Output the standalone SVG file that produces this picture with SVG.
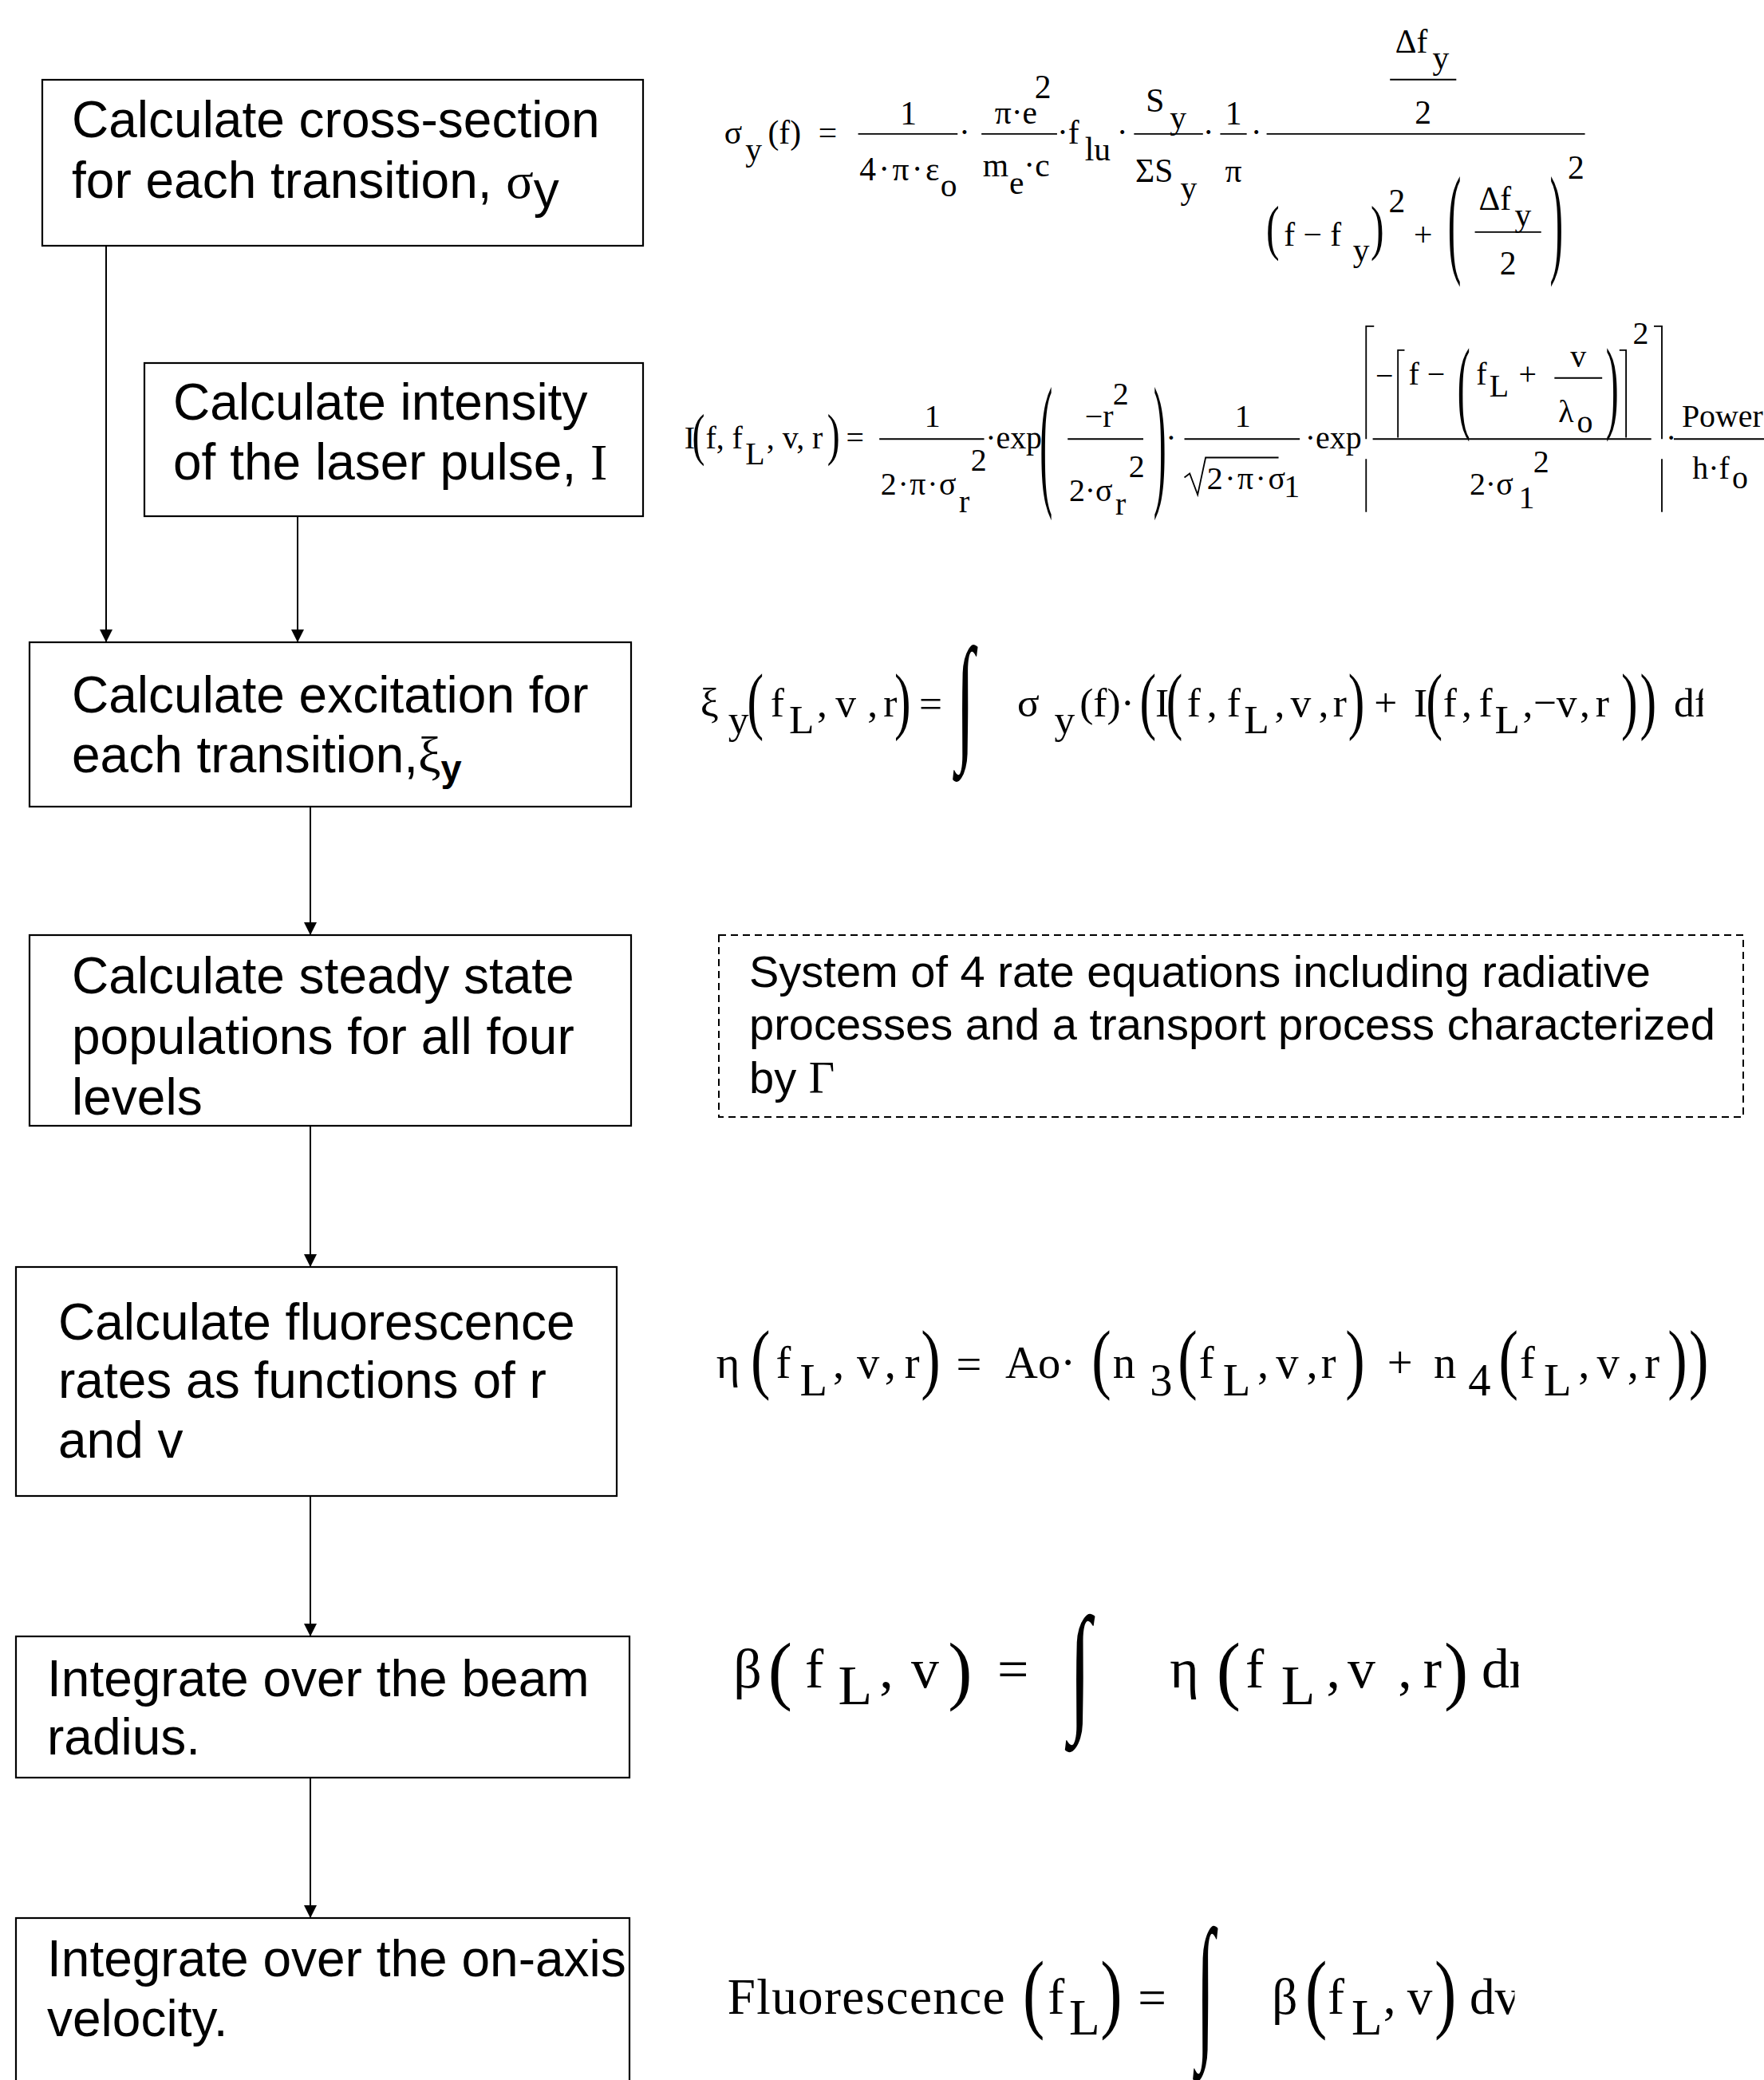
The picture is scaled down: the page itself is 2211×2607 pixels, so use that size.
<svg xmlns="http://www.w3.org/2000/svg" width="2211" height="2607" viewBox="0 0 2211 2607">
<style>
.box{fill:none;stroke:#000;stroke-width:2.2}
.dash{fill:none;stroke:#000;stroke-width:2;stroke-dasharray:9 6}
.conn{fill:none;stroke:#000;stroke-width:2}
.lbl{font-family:"Liberation Sans",Arial,Helvetica,sans-serif;font-size:64px;fill:#000}
.note{font-family:"Liberation Sans",Arial,Helvetica,sans-serif;font-size:56px;fill:#000}
.gk{font-family:"Liberation Serif","Times New Roman",serif}
.m{font-family:"Liberation Serif","Times New Roman",serif;fill:#000}
.f1{font-size:25px}.f2{font-size:24px}.f3{font-size:31px}.f4{font-size:34px}.f5{font-size:42px}.f6{font-size:38px}
.bar{stroke:#000;stroke-width:1.1;fill:none}
.ln{stroke:#000;stroke-width:1.1;fill:none}
.int{font-size:50px}
</style>
<defs>
<marker id="ah" markerWidth="16" markerHeight="16" viewBox="0 0 16 16" refX="16" refY="8" orient="auto" markerUnits="userSpaceOnUse"><path d="M0,0 L16,8 L0,16 Z" fill="#000"/></marker>
<clipPath id="cp3" clipPathUnits="userSpaceOnUse"><rect x="1240" y="480" width="44" height="100"/></clipPath>
<clipPath id="cp5" clipPathUnits="userSpaceOnUse"><rect x="1100" y="1200" width="45" height="120"/></clipPath>
<clipPath id="cp6" clipPathUnits="userSpaceOnUse"><rect x="1090" y="1450" width="52" height="120"/></clipPath>
</defs>
<rect x="0" y="0" width="2211" height="2607" fill="#fff"/>

<g id="n1">
<rect class="box" x="53" y="100" width="753" height="208"/>
<text class="lbl" x="90" y="172">Calculate cross-section</text>
<text class="lbl" x="90" y="248">for each transition, <tspan class="gk">σ</tspan><tspan dy="12">y</tspan></text>
</g>
<g id="n2">
<rect class="box" x="181" y="455" width="625" height="192"/>
<text class="lbl" x="217" y="526">Calculate intensity</text>
<text class="lbl" x="217" y="601">of the laser pulse, <tspan class="gk">I</tspan></text>
</g>
<g id="n3">
<rect class="box" x="37" y="805" width="754" height="206"/>
<text class="lbl" x="90" y="893">Calculate excitation for</text>
<text class="lbl" x="90" y="968">each transition,<tspan class="gk">ξ</tspan><tspan dy="11" font-weight="bold" font-size="47">y</tspan></text>
</g>
<g id="n4">
<rect class="box" x="37" y="1172" width="754" height="239"/>
<text class="lbl" x="90" y="1245">Calculate steady state</text>
<text class="lbl" x="90" y="1321">populations for all four</text>
<text class="lbl" x="90" y="1397">levels</text>
</g>
<g id="n5">
<rect class="box" x="20" y="1588" width="753" height="287"/>
<text class="lbl" x="73" y="1679">Calculate fluorescence</text>
<text class="lbl" x="73" y="1752">rates as functions of r</text>
<text class="lbl" x="73" y="1827">and v</text>
</g>
<g id="n6">
<rect class="box" x="20" y="2051" width="769" height="177"/>
<text class="lbl" x="59" y="2126">Integrate over the beam</text>
<text class="lbl" x="59" y="2199">radius.</text>
</g>
<g id="n7">
<rect class="box" x="20" y="2404" width="769" height="260"/>
<text class="lbl" x="59" y="2477">Integrate over the on-axis</text>
<text class="lbl" x="59" y="2552">velocity.</text>
</g>
<g id="note">
<rect class="dash" x="901" y="1172" width="1284" height="228"/>
<text class="note" x="939" y="1237">System of 4 rate equations including radiative</text>
<text class="note" x="939" y="1303">processes and a transport process characterized</text>
<text class="note" x="939" y="1370">by <tspan class="gk">Γ</tspan></text>
</g>

<g id="connectors">
<line class="conn" x1="133" y1="308" x2="133" y2="805" marker-end="url(#ah)"/>
<line class="conn" x1="373" y1="647" x2="373" y2="805" marker-end="url(#ah)"/>
<line class="conn" x1="389" y1="1011" x2="389" y2="1172" marker-end="url(#ah)"/>
<line class="conn" x1="389" y1="1411" x2="389" y2="1588" marker-end="url(#ah)"/>
<line class="conn" x1="389" y1="1875" x2="389" y2="2051" marker-end="url(#ah)"/>
<line class="conn" x1="389" y1="2228" x2="389" y2="2404" marker-end="url(#ah)"/>
</g>

<g id="eq-sigma" class="m f1" transform="scale(1.6624)">
<text x="546" y="108">σ</text>
<text x="562" y="121">y</text>
<text x="579" y="108">(f)</text>
<text x="617" y="108">=</text>
<text x="685" y="94" text-anchor="middle">1</text>
<line class="bar" x1="647" y1="101" x2="722" y2="101"/>
<text x="648" y="136" letter-spacing="2">4·π·ε</text>
<text x="709" y="148">o</text>
<text x="723" y="108">·</text>
<text x="750" y="93">π·e</text>
<text x="780" y="74">2</text>
<line class="bar" x1="740" y1="101" x2="797" y2="101"/>
<text x="741" y="133">m</text>
<text x="761" y="146">e</text>
<text x="772" y="133">·c</text>
<text x="797" y="108">·f</text>
<text x="818" y="121">lu</text>
<text x="842" y="108">·</text>
<text x="864" y="84">S</text>
<text x="882" y="97">y</text>
<line class="bar" x1="855" y1="101" x2="907" y2="101"/>
<text x="856" y="137">ΣS</text>
<text x="890" y="150">y</text>
<text x="907" y="108">·</text>
<text x="930" y="94" text-anchor="middle">1</text>
<line class="bar" x1="920" y1="101" x2="940" y2="101"/>
<text x="930" y="137" text-anchor="middle">π</text>
<text x="943" y="108">·</text>
<line class="bar" x1="955" y1="101" x2="1195" y2="101"/>
<text x="1052" y="40">Δf</text>
<text x="1080" y="52">y</text>
<line class="bar" x1="1048" y1="60" x2="1098" y2="60"/>
<text x="1073" y="93" text-anchor="middle">2</text>
<text transform="translate(954.6,186.9) scale(1.2,1.839)">(</text>
<text x="968" y="185">f − f</text>
<text x="1020" y="197">y</text>
<text transform="translate(1033.5,186.9) scale(1.2,1.839)">)</text>
<text x="1047" y="160">2</text>
<text x="1066" y="185">+</text>
<text transform="translate(1091.6,196.8) scale(1.2,3.678)">(</text>
<text x="1115" y="158">Δf</text>
<text x="1142" y="170">y</text>
<line class="bar" x1="1112" y1="175" x2="1162" y2="175"/>
<text x="1137" y="207" text-anchor="middle">2</text>
<text transform="translate(1168.5,196.8) scale(1.2,3.678)">)</text>
<text x="1182" y="135">2</text>
</g>

<g id="eq-intensity" class="m f2" transform="scale(1.6624)">
<text x="516" y="338">I</text>
<text transform="translate(521.8,342.3) scale(1.2,1.82)">(</text>
<text x="532" y="338">f, f</text>
<text x="562" y="350">L</text>
<text x="578" y="338">, v, r</text>
<text transform="translate(623.7,342.3) scale(1.2,1.82)">)</text>
<text x="638" y="338">=</text>
<text x="703" y="322" text-anchor="middle">1</text>
<line class="bar" x1="663" y1="331" x2="742" y2="331"/>
<text x="664" y="373" letter-spacing="1">2·π·σ</text>
<text x="723" y="386">r</text>
<text x="732" y="355">2</text>
<text x="743" y="338">·exp</text>
<text transform="translate(784,368.6) scale(1.2,4.598)">(</text>
<text x="818" y="322">−r</text>
<text x="839" y="305">2</text>
<line class="bar" x1="805" y1="331" x2="862" y2="331"/>
<text x="806" y="378">2·σ</text>
<text x="841" y="388">r</text>
<text x="851" y="360">2</text>
<text transform="translate(869.7,368.6) scale(1.2,4.598)">)</text>
<text x="879" y="338">·</text>
<text x="937" y="322" text-anchor="middle">1</text>
<line class="bar" x1="893" y1="331" x2="980" y2="331"/>
<path class="ln" d="M893,360 L897,357 L903,373 L909,345 L964,345"/>
<text x="910" y="369" letter-spacing="1.5">2·π·σ</text>
<text x="968" y="375">1</text>
<text x="984" y="338">·exp</text>
<path class="ln" d="M1036,246 H1030 V331 M1030,346 V386"/>
<text x="1037" y="291">−</text>
<path class="ln" d="M1059,264 H1054 V330"/>
<text x="1062" y="290">f −</text>
<text transform="translate(1098.8,316.3) scale(1.2,3.257)">(</text>
<text x="1113" y="290">f</text>
<text x="1123" y="299">L</text>
<text x="1145" y="290">+</text>
<text x="1190" y="277" text-anchor="middle">v</text>
<line class="bar" x1="1172" y1="285" x2="1208" y2="285"/>
<text x="1175" y="318">λ</text>
<text x="1189" y="326">o</text>
<text transform="translate(1210.7,316.3) scale(1.2,3.257)">)</text>
<path class="ln" d="M1221,264 H1226 V330"/>
<text x="1231" y="259">2</text>
<line class="bar" x1="1035" y1="331" x2="1245" y2="331"/>
<text x="1108" y="373">2·σ</text>
<text x="1145" y="383">1</text>
<text x="1156" y="356">2</text>
<path class="ln" d="M1247,246 H1253 V331 M1253,346 V386"/>
<text x="1256" y="338">·</text>
<text x="1268" y="322">Power</text>
<line class="bar" x1="1262" y1="331" x2="1330" y2="331"/>
<text x="1276" y="361">h·f</text>
<text x="1306" y="368">o</text>
</g>

<g id="eq-xi" class="m f3" transform="scale(1.6624)">
<text x="528" y="540">ξ</text>
<text x="549" y="553">y</text>
<text transform="translate(563.3,546.6) scale(1.2,1.796)">(</text>
<text x="581" y="540">f</text>
<text x="595" y="553">L</text>
<text x="616" y="540">,</text>
<text x="630" y="540">v</text>
<text x="654" y="540">,</text>
<text x="666" y="540">r</text>
<text transform="translate(674.4,546.6) scale(1.2,1.796)">)</text>
<text x="693" y="541">=</text>
<text class="int" transform="translate(721,561.1) scale(1,2.107)">∫</text>
<text x="767" y="540">σ</text>
<text x="795" y="553">y</text>
<text x="814" y="540">(f)·</text>
<text transform="translate(859.3,546.6) scale(1.2,1.796)">(</text>
<text x="871" y="540">I</text>
<text transform="translate(879.3,546.6) scale(1.2,1.796)">(</text>
<text x="895" y="540">f</text>
<text x="910" y="540">,</text>
<text x="925" y="540">f</text>
<text x="938" y="553">L</text>
<text x="961" y="540">,</text>
<text x="973" y="540">v</text>
<text x="994" y="540">,</text>
<text x="1005" y="540">r</text>
<text transform="translate(1016.4,546.6) scale(1.2,1.796)">)</text>
<text x="1036" y="540">+</text>
<text x="1066" y="540">I</text>
<text transform="translate(1075.3,546.6) scale(1.2,1.796)">(</text>
<text x="1088" y="540">f</text>
<text x="1102" y="540">,</text>
<text x="1115" y="540">f</text>
<text x="1127" y="553">L</text>
<text x="1148" y="540">,</text>
<text x="1156" y="540">−v</text>
<text x="1191" y="540">,</text>
<text x="1203" y="540">r</text>
<text transform="translate(1222.4,546.6) scale(1.2,1.796)">)</text>
<text transform="translate(1236.4,546.6) scale(1.2,1.796)">)</text>
<text x="1262" y="540" clip-path="url(#cp3)">df</text>
</g>

<g id="eq-eta" class="m f4" transform="scale(1.6624)">
<text x="540" y="1039">η</text>
<text transform="translate(566,1043.8) scale(1.3,1.706)">(</text>
<text x="585" y="1039">f</text>
<text x="603" y="1052">L</text>
<text x="628" y="1039">,</text>
<text x="646" y="1039">v</text>
<text x="667" y="1039">,</text>
<text x="682" y="1039">r</text>
<text transform="translate(694.4,1043.8) scale(1.3,1.706)">)</text>
<text x="721" y="1040">=</text>
<text x="758" y="1039">Ao·</text>
<text transform="translate(823,1043.8) scale(1.3,1.706)">(</text>
<text x="839" y="1039">n</text>
<text x="867" y="1052">3</text>
<text transform="translate(888,1043.8) scale(1.3,1.706)">(</text>
<text x="904" y="1039">f</text>
<text x="922" y="1052">L</text>
<text x="948" y="1039">,</text>
<text x="962" y="1039">v</text>
<text x="985" y="1039">,</text>
<text x="996" y="1039">r</text>
<text transform="translate(1014.4,1043.8) scale(1.3,1.706)">)</text>
<text x="1046" y="1039">+</text>
<text x="1081" y="1039">n</text>
<text x="1107" y="1052">4</text>
<text transform="translate(1130,1043.8) scale(1.3,1.706)">(</text>
<text x="1146" y="1039">f</text>
<text x="1164" y="1052">L</text>
<text x="1190" y="1039">,</text>
<text x="1204" y="1039">v</text>
<text x="1227" y="1039">,</text>
<text x="1240" y="1039">r</text>
<text transform="translate(1257.4,1043.8) scale(1.3,1.706)">)</text>
<text transform="translate(1273.4,1043.8) scale(1.3,1.706)">)</text>
</g>

<g id="eq-beta" class="m f5" transform="scale(1.6624)">
<text x="553" y="1272">β</text>
<text transform="translate(579.2,1278.5) scale(1.3,1.356)">(</text>
<text x="607" y="1272">f</text>
<text x="632" y="1285">L</text>
<text x="663" y="1272">,</text>
<text x="687" y="1272">v</text>
<text transform="translate(714.8,1278.5) scale(1.3,1.356)">)</text>
<text x="752" y="1273">=</text>
<text class="int" transform="translate(806,1292.8) scale(1.2,2.128)">∫</text>
<text x="882" y="1272">η</text>
<text transform="translate(917.2,1278.5) scale(1.3,1.356)">(</text>
<text x="939" y="1272">f</text>
<text x="966" y="1285">L</text>
<text x="1000" y="1272">,</text>
<text x="1016" y="1272">v</text>
<text x="1054" y="1272">,</text>
<text x="1073" y="1272">r</text>
<text transform="translate(1088.8,1278.5) scale(1.3,1.356)">)</text>
<text x="1117" y="1272" clip-path="url(#cp5)">dr</text>
</g>

<g id="eq-fluor" class="m f6" transform="scale(1.6624)">
<text x="548.5" y="1518" letter-spacing="0.8">Fluorescence</text>
<text transform="translate(771.1,1524.3) scale(1.3,1.754)">(</text>
<text x="790" y="1518">f</text>
<text x="806" y="1534">L</text>
<text transform="translate(829.6,1524.3) scale(1.3,1.754)">)</text>
<text x="858" y="1519">=</text>
<text class="int" transform="translate(902,1537.6) scale(1,2.4)">∫</text>
<text x="959" y="1518">β</text>
<text transform="translate(984.1,1524.3) scale(1.3,1.754)">(</text>
<text x="1001" y="1518">f</text>
<text x="1019" y="1534">L</text>
<text x="1043" y="1518">,</text>
<text x="1061" y="1518">v</text>
<text transform="translate(1081.6,1524.3) scale(1.3,1.754)">)</text>
<text x="1108" y="1518" clip-path="url(#cp6)">dv</text>
</g>
</svg>
